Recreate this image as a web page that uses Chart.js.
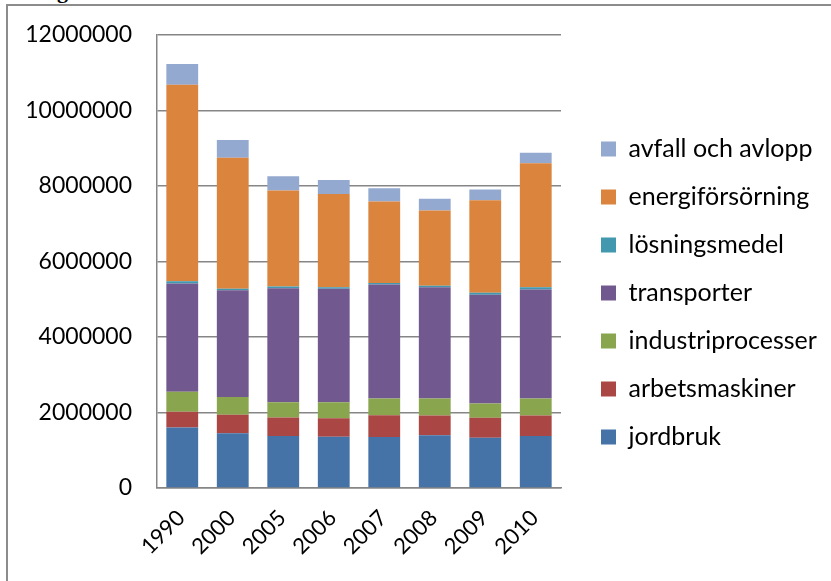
<!DOCTYPE html>
<html>
<head>
<meta charset="utf-8">
<script src="https://cdn.jsdelivr.net/npm/chart.js@4"></script>
<style>
  html, body { margin: 0; padding: 0; background: #ffffff; }
  #wrap { position: relative; width: 831px; height: 581px; overflow: hidden; }
  #frameTop { position: absolute; left: 6px; top: 4px; width: 825px; height: 2px; background: #8c8c8c; }
  #frameLeft { position: absolute; left: 6px; top: 4px; width: 2px; height: 577px; background: #8c8c8c; }
  #frag { position: absolute; left: 57px; top: -20px; font: bold 22px "Liberation Serif", "DejaVu Serif", serif; line-height: 1; color: #000; }
  canvas { position: absolute; left: 0; top: 0; }
</style>
</head>
<body>
<div id="wrap">
  <div id="frag">g</div>
  <div id="frameTop"></div>
  <div id="frameLeft"></div>
  <canvas id="c" width="831" height="581"></canvas>
</div>
<script>
const years = ["1990", "2000", "2005", "2006", "2007", "2008", "2009", "2010"];
const jordbruk          = [1600000, 1450000, 1380000, 1360000, 1350000, 1400000, 1330000, 1380000];
const arbetsmaskiner    = [420000, 490000, 490000, 490000, 580000, 520000, 530000, 540000];
const industriprocesser = [530000, 470000, 400000, 420000, 440000, 450000, 380000, 450000];
const transporter       = [2870000, 2830000, 3020000, 3010000, 3020000, 2950000, 2880000, 2890000];
const losningsmedel     = [60000, 40000, 50000, 40000, 40000, 40000, 50000, 60000];
const energiforsorning  = [5200000, 3470000, 2540000, 2470000, 2160000, 1990000, 2450000, 3280000];
const avfallOchAvlopp   = [550000, 470000, 380000, 370000, 350000, 310000, 290000, 280000];
const yTicks = [0, 2000000, 4000000, 6000000, 8000000, 10000000, 12000000];

const FONT = "Lato";
const GRID = "#868686";

function ds(label, data, color) {
  return { label, data, backgroundColor: color, borderWidth: 0,
           categoryPercentage: 1.0, barPercentage: 0.63 };
}

const legendWidth = {
  id: "legendWidth",
  beforeInit(chart) {
    const fit = chart.legend.fit;
    chart.legend.fit = function () {
      fit.call(this);
      this.width = 253;
    };
  }
};

const chart = new Chart(document.getElementById("c"), {
  type: "bar",
  plugins: [legendWidth],
  data: {
    labels: years,
    datasets: [
      ds("jordbruk", jordbruk, "#4572A7"),
      ds("arbetsmaskiner", arbetsmaskiner, "#AA4643"),
      ds("industriprocesser", industriprocesser, "#89A54E"),
      ds("transporter", transporter, "#71588F"),
      ds("lösningsmedel", losningsmedel, "#4198AF"),
      ds("energiförsörning", energiforsorning, "#DB843D"),
      ds("avfall och avlopp", avfallOchAvlopp, "#93A9CF")
    ]
  },
  options: {
    responsive: false,
    devicePixelRatio: 1,
    animation: false,
    layout: { padding: { top: 35, bottom: 0, left: 0, right: 0 } },
    plugins: {
      tooltip: { enabled: false },
      legend: {
        position: "right",
        align: "start",
        reverse: true,
        title: { display: true, text: " ", font: { size: 10 }, padding: { top: 66.5, bottom: 0 } },
        labels: {
          font: { family: FONT, size: 25 },
          color: "#000",
          boxWidth: 15,
          boxHeight: 15,
          padding: 23,
          generateLabels: (c) => Chart.defaults.plugins.legend.labels.generateLabels(c)
                                   .map(l => Object.assign(l, { lineWidth: 0 }))
        }
      }
    },
    scales: {
      x: {
        stacked: true,
        grid: { display: false, drawTicks: false },
        border: { display: true, color: GRID, width: 1.5 },
        ticks: {
          font: { family: FONT, size: 22 },
          color: "#000",
          minRotation: 45,
          maxRotation: 45,
          padding: 17,
          labelOffset: -1
        },
        afterFit: (s) => { s.height = 93; }
      },
      y: {
        stacked: true,
        min: 0,
        max: 12000000,
        afterBuildTicks: (s) => { s.ticks = yTicks.map(v => ({ value: v })); },
        grid: { color: GRID, lineWidth: 1.5, drawTicks: true, tickLength: 20, tickColor: "rgba(0,0,0,0)" },
        border: { display: true, color: GRID, width: 1.5 },
        ticks: {
          font: { family: FONT, size: 23 },
          color: "#000",
          padding: 5,
          callback: (v) => String(v)
        },
        afterFit: (s) => { s.width = 157; }
      },
      spacer: {
        type: "linear",
        position: "right",
        display: true,
        min: 0, max: 1,
        grid: { display: false, drawTicks: false },
        border: { display: false },
        ticks: { display: false },
        afterFit: (s) => { s.width = 17; }
      }
    }
  }
});
</script>
</body>
</html>
